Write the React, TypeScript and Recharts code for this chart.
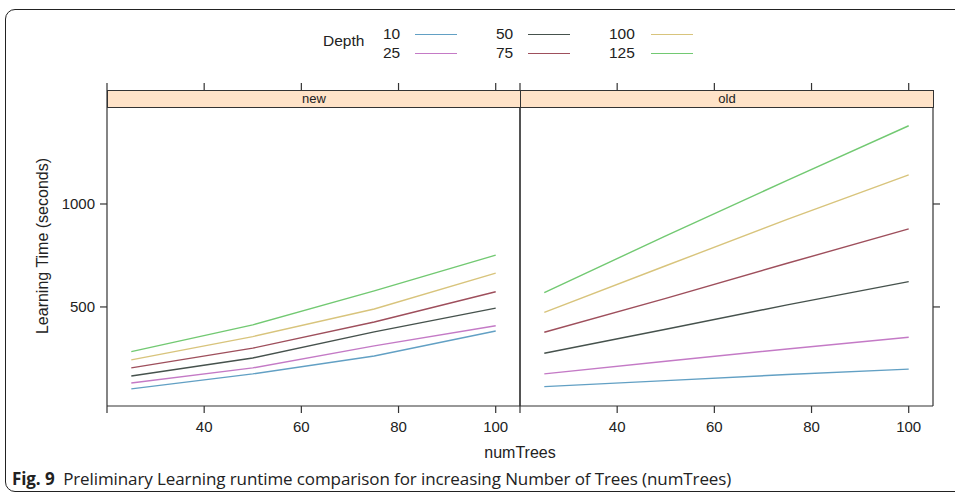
import { LineChart, Line, XAxis, YAxis } from 'recharts'

// numTrees on the x axis, one line per tree depth
const numTrees = [25, 50, 75, 100]
const depths = [10, 25, 50, 75, 100, 125]
const depthColors = ['#62a0c4', '#c47ac6', '#46524d', '#9e4f5c', '#d8c47c', '#72c972']

// "new" panel, learning time in seconds
const newDepth10 = [102, 175, 262, 383]
const newDepth25 = [131, 204, 311, 409]
const newDepth50 = [165, 252, 379, 494]
const newDepth75 = [204, 300, 427, 574]
const newDepth100 = [243, 356, 490, 664]
const newDepth125 = [283, 413, 578, 752]

// "old" panel
const oldDepth10 = [113, 142, 172, 198]
const oldDepth25 = [175, 236, 296, 353]
const oldDepth50 = [275, 392, 510, 623]
const oldDepth75 = [377, 542, 712, 879]
const oldDepth100 = [474, 700, 925, 1141]
const oldDepth125 = [570, 845, 1115, 1380]

const xTicks = [20, 40, 60, 80, 100]
const yTicks = [500, 1000]
const xDomain = [20, 105]
const yDomain = [19, 1471]

const buildRows = (series: number[][]) =>
  numTrees.map((n, i) => {
    const row: any = { numTrees: n }
    depths.forEach((d, j) => {
      row['d' + d] = series[j][i]
    })
    return row
  })

const newRows = buildRows([newDepth10, newDepth25, newDepth50, newDepth75, newDepth100, newDepth125])
const oldRows = buildRows([oldDepth10, oldDepth25, oldDepth50, oldDepth75, oldDepth100, oldDepth125])

const FONT = '"Liberation Sans", Arial, sans-serif'
const AXIS = '#333'
const tickStyle = { fontSize: 15, fill: '#222', fontFamily: FONT }
const blankLabel = () => ''
const bottomLabel = (v: number) => (v === 20 ? '' : String(v))

const lines = () =>
  depths.map((d, j) => (
    <Line
      key={d}
      dataKey={'d' + d}
      type="linear"
      stroke={depthColors[j]}
      strokeWidth={1.4}
      dot={false}
      activeDot={false}
      isAnimationActive={false}
    />
  ))

const Strip = ({ left, width, text }: { left: number; width: number; text: string }) => (
  <div style={{
    position: 'absolute',
    left,
    top: 90,
    width,
    height: 18,
    boxSizing: 'border-box',
    border: '1px solid #333',
    background: '#ffe3c8',
    fontFamily: FONT,
    fontSize: 13,
    lineHeight: '16px',
    color: '#222',
    textAlign: 'center'
  }}>
    {text}
  </div>
)

const legendCols = [383, 496, 609]
const legendRows = [34, 53]

const App = () => {
  return (
    <div style={{ position: 'absolute', left: 0, top: 0, width: 955, height: 500, overflow: 'hidden', background: 'white' }}>
      {/* figure frame, open on the right */}
      <div style={{
        position: 'absolute',
        left: 5,
        top: 9,
        width: 980,
        height: 483,
        boxSizing: 'border-box',
        border: '1px solid #222',
        borderRadius: 10
      }} />

      {/* legend */}
      <div style={{ position: 'absolute', left: 323, top: 41, transform: 'translateY(-50%)', fontFamily: FONT, fontSize: 15.5, color: '#222' }}>
        Depth
      </div>
      {depths.map((d, j) => {
        const col = Math.floor(j / 2)
        const row = j % 2
        return (
          <div key={d} style={{
            position: 'absolute',
            left: legendCols[col],
            top: legendRows[row],
            transform: 'translateY(-50%)',
            display: 'flex',
            alignItems: 'center',
            fontFamily: FONT,
            fontSize: 15.5,
            color: '#222'
          }}>
            <span style={{ width: col === 2 ? 42 : 32 }}>{d}</span>
            <span style={{ width: 42, height: 0, borderTop: `1.5px solid ${depthColors[j]}` }} />
          </div>
        )
      })}

      {/* new panel */}
      <div style={{ position: 'absolute', left: 0, top: 0 }}>
        <LineChart width={540} height={440} data={newRows} margin={{ top: 0, right: 0, bottom: 0, left: 0 }}>
          <XAxis
            xAxisId="top"
            orientation="top"
            dataKey="numTrees"
            type="number"
            domain={xDomain}
            ticks={xTicks}
            height={107}
            tickSize={24}
            tickFormatter={blankLabel}
            axisLine={{ stroke: AXIS, strokeWidth: 1.2 }}
            tickLine={{ stroke: AXIS, strokeWidth: 1.2 }}
          />
          <XAxis
            dataKey="numTrees"
            type="number"
            domain={xDomain}
            ticks={xTicks}
            height={34}
            tickSize={7}
            tickMargin={8}
            tickFormatter={bottomLabel}
            tick={tickStyle}
            axisLine={{ stroke: AXIS, strokeWidth: 1.2 }}
            tickLine={{ stroke: AXIS, strokeWidth: 1.2 }}
          />
          <YAxis
            type="number"
            domain={yDomain}
            ticks={yTicks}
            width={107}
            tickSize={7}
            tickMargin={5}
            tick={tickStyle}
            axisLine={{ stroke: AXIS, strokeWidth: 1.2 }}
            tickLine={{ stroke: AXIS, strokeWidth: 1.2 }}
          />
          <YAxis
            yAxisId="frame"
            orientation="right"
            type="number"
            domain={yDomain}
            ticks={[]}
            width={20}
            tickLine={false}
            tick={false}
            axisLine={{ stroke: AXIS, strokeWidth: 1.2 }}
          />
          {lines()}
        </LineChart>
      </div>

      {/* old panel */}
      <div style={{ position: 'absolute', left: 500, top: 0 }}>
        <LineChart width={455} height={440} data={oldRows} margin={{ top: 0, right: 0, bottom: 0, left: 0 }}>
          <XAxis
            xAxisId="top"
            orientation="top"
            dataKey="numTrees"
            type="number"
            domain={xDomain}
            ticks={xTicks}
            height={107}
            tickSize={24}
            tickFormatter={blankLabel}
            axisLine={{ stroke: AXIS, strokeWidth: 1.2 }}
            tickLine={{ stroke: AXIS, strokeWidth: 1.2 }}
          />
          <XAxis
            dataKey="numTrees"
            type="number"
            domain={xDomain}
            ticks={xTicks}
            height={34}
            tickSize={7}
            tickMargin={8}
            tickFormatter={bottomLabel}
            tick={tickStyle}
            axisLine={{ stroke: AXIS, strokeWidth: 1.2 }}
            tickLine={{ stroke: AXIS, strokeWidth: 1.2 }}
          />
          <YAxis
            yAxisId="frame"
            type="number"
            domain={yDomain}
            ticks={[]}
            width={20}
            tickLine={false}
            tick={false}
            axisLine={{ stroke: AXIS, strokeWidth: 1.2 }}
          />
          <YAxis
            orientation="right"
            type="number"
            domain={yDomain}
            ticks={yTicks}
            width={22}
            tickSize={7}
            tickFormatter={blankLabel}
            axisLine={{ stroke: AXIS, strokeWidth: 1.2 }}
            tickLine={{ stroke: AXIS, strokeWidth: 1.2 }}
          />
          {lines()}
        </LineChart>
      </div>

      <Strip left={107} width={414} text="new" />
      <Strip left={520} width={414} text="old" />

      {/* axis titles */}
      <div style={{
        position: 'absolute',
        left: 43,
        top: 246,
        transform: 'translate(-50%, -50%) rotate(-90deg)',
        whiteSpace: 'nowrap',
        fontFamily: FONT,
        fontSize: 16,
        color: '#222'
      }}>
        Learning Time (seconds)
      </div>
      <div style={{
        position: 'absolute',
        left: 520,
        top: 453,
        transform: 'translate(-50%, -50%)',
        fontFamily: FONT,
        fontSize: 16,
        color: '#222'
      }}>
        numTrees
      </div>

      {/* caption */}
      <div style={{
        position: 'absolute',
        left: 12,
        top: 478,
        transform: 'translateY(-50%)',
        whiteSpace: 'nowrap',
        fontFamily: '"Open Sans", sans-serif',
        fontSize: 17,
        letterSpacing: -0.1,
        color: '#222'
      }}>
        <b>Fig. 9</b>&nbsp; Preliminary Learning runtime comparison for increasing Number of Trees (numTrees)
      </div>
    </div>
  )
}

export default App
